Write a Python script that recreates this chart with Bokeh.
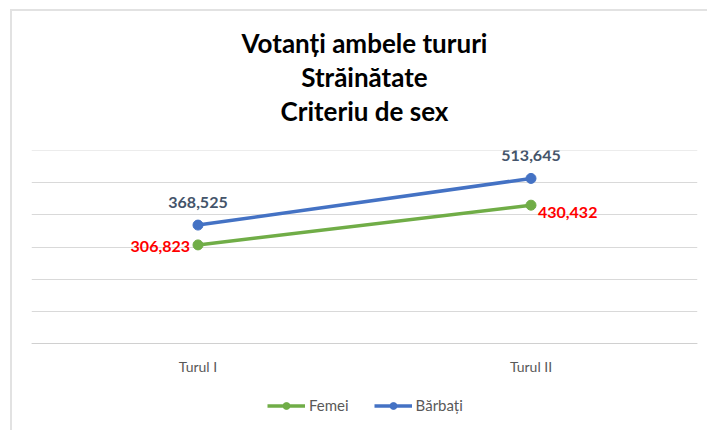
from bokeh.plotting import figure
from bokeh.models import Range1d, FactorRange, FixedTicker, Title, Legend, LegendItem
from bokeh.core.properties import value
from bokeh.embed import file_html
from bokeh.resources import INLINE

categories = ["Turul I", "Turul II"]
femei = [306823, 430432]
barbati = [368525, 513645]
femei_labels = ["306,823", "430,432"]
barbati_labels = ["368,525", "513,645"]
title_lines = ["Votanți ambele tururi", "Străinătate", "Criteriu de sex"]
grid_values = [0, 100000, 200000, 300000, 400000, 500000, 600000]

FONT = "Lato"
GREEN = "#70AD47"
BLUE = "#4472C4"

# frame 150..430 px; value axis 0..600000 occupies the top 193 px
p = figure(frame_width=666, frame_height=280, x_range=FactorRange(*categories, range_padding=0),
           y_range=Range1d(-270466, 600500), output_backend="svg", toolbar_location=None,
           min_border_left=19, min_border_right=10, min_border_top=139, min_border_bottom=0)
p.styles = {"border-top": "2px solid #e2e2e2", "border-left": "2px solid #e2e2e2",
            "margin-top": "9px", "margin-left": "10px"}
p.outline_line_color = None
p.background_fill_color = "white"
p.border_fill_color = "white"

# titles
p.title.text = title_lines[0]
spacer = Title(text=" ", text_font_size="8px", standoff=13)
t3 = Title(text=title_lines[2])
t2 = Title(text=title_lines[1])
p.add_layout(spacer, "above")
p.add_layout(t3, "above")
p.add_layout(t2, "above")
for t in [p.title, t2, t3]:
    t.text_font = FONT
    t.text_font_size = "26px"
    t.text_font_style = "bold"
    t.text_color = "#000000"
    t.align = "center"
    t.offset = 0
p.title.standoff = 0
t2.standoff = 0
t3.standoff = 0

# axes
p.yaxis.visible = False
tick = FixedTicker(ticks=grid_values)
p.yaxis.ticker = tick
p.ygrid.ticker = tick
p.ygrid.grid_line_color = "#d9d9d9"
p.xgrid.visible = False
xa = p.xaxis[0]
xa.fixed_location = 0
xa.axis_line_color = "#d0d0d0"
xa.major_tick_line_color = None
xa.minor_tick_line_color = None
xa.major_tick_out = 0
xa.major_tick_in = 0
xa.major_label_standoff = 14
xa.major_label_text_font = FONT
xa.major_label_text_font_size = "14px"
xa.major_label_text_color = "#595959"

lf = p.line(categories, femei, line_color=GREEN, line_width=3.5)
sf = p.scatter(categories, femei, size=10, fill_color=GREEN, line_color=GREEN)
lb = p.line(categories, barbati, line_color=BLUE, line_width=3.5)
sb = p.scatter(categories, barbati, size=10, fill_color=BLUE, line_color=BLUE)

# data labels
p.text(categories, barbati, text=barbati_labels, text_font=value(FONT), text_font_size="16px",
       text_font_style="bold", text_color="#44546A", text_align="center",
       text_baseline="middle", y_offset=-23)
p.text(categories[:1], femei[:1], text=femei_labels[:1], text_font=value(FONT), text_font_size="16px",
       text_font_style="bold", text_color="#FF0000", text_align="right",
       text_baseline="middle", x_offset=-8, y_offset=2)
p.text(categories[1:], femei[1:], text=femei_labels[1:], text_font=value(FONT), text_font_size="16px",
       text_font_style="bold", text_color="#FF0000", text_align="left",
       text_baseline="middle", x_offset=7, y_offset=7)

legend = Legend(items=[LegendItem(label="Femei", renderers=[lf, sf]),
                       LegendItem(label="Bărbați", renderers=[lb, sb])],
                orientation="horizontal", location=(236, 16))
legend.glyph_width = 38
legend.glyph_height = 17
legend.label_standoff = 4
legend.spacing = 25
legend.padding = 4
legend.margin = 0
legend.border_line_color = None
legend.background_fill_alpha = 0
legend.label_text_font = FONT
legend.label_text_font_size = "15px"
legend.label_text_color = "#595959"
p.add_layout(legend, "center")

open("out.html", "w").write(file_html(p, INLINE))
